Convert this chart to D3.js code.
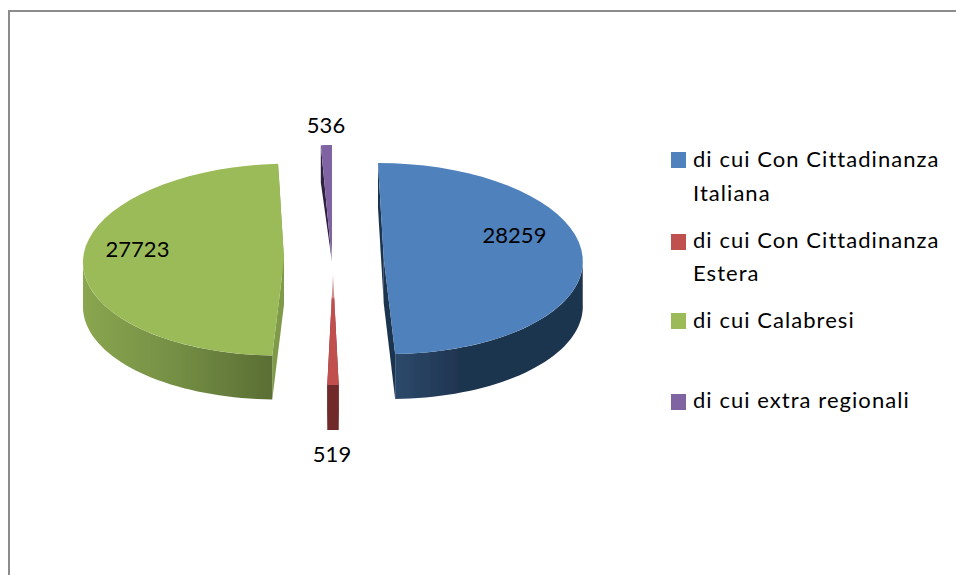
<!DOCTYPE html>
<html><head><meta charset="utf-8">
<script src="https://cdn.jsdelivr.net/npm/d3@7"></script>
<style>html,body{margin:0;padding:0;background:#fff;overflow:hidden}text{font-family:Lato,"Open Sans",sans-serif;fill:#000}</style>
</head><body><svg id="c" width="956" height="575"></svg>
<script>
const categories = ["di cui Con Cittadinanza Italiana","di cui Con Cittadinanza Estera","di cui Calabresi","di cui extra regionali"];
const legendLines = [["di cui Con Cittadinanza","Italiana"],["di cui Con Cittadinanza","Estera"],["di cui Calabresi"],["di cui extra regionali"]];
const values = [28259,519,27723,536];
const colors = ["#4f81bd","#c0504d","#9bbb59","#8064a2"];
const wallStops = [["#2c4a6b","#1f3450","#1f3450"],["#6f2a2a","#6f2a2a","#6f2a2a"],["#8aa64f","#748e44","#5a6e34"],["#2e2340","#2e2340","#2e2340"]];
const wallOffsets = [[0,.35,1],[0,.5,1],[0,.5,1],[0,.5,1]];
const cutWall = ["#1f3450","#6f2a2a","#7f9a48","#2e2340"];
// projected geometry of each exploded slice
const ax = [383.75,333,284,332], ay = [258.5,275,259.5,262];
const rx = [199,200,201,190], ry = [95.5,110,96,117];
const skew = [5.75,0,-6,0], depth = [45,45,44,37], apexDepth = [45,0,45,0];
const labelPos = [[514.5,243],[332,462],[137.5,257],[326,133]];
const legendTop = [152,234,313,394], legendBase = [[167,200.5],[248,281],[328],[408]];

const svg = d3.select("#c");
const defs = svg.append("defs");
defs.append("filter").attr("id","soft").attr("x","-5%").attr("y","-5%").attr("width","110%").attr("height","110%")
  .append("feGaussianBlur").attr("stdDeviation",0.5);
wallStops.forEach((st,i)=>{
  const g = defs.append("linearGradient").attr("id","w"+i);
  g.selectAll("stop").data(st).join("stop").attr("offset",(d,k)=>wallOffsets[i][k]).attr("stop-color",d=>d);
});
const fade = defs.append("linearGradient").attr("id","fadeRed").attr("x1",0).attr("x2",0).attr("y1",0).attr("y2",1);
[[0,.2],[.2,.5],[.22,1],[1,1]].forEach(s=>fade.append("stop").attr("offset",s[0]).attr("stop-color",colors[1]).attr("stop-opacity",s[1]));
const fadeP = defs.append("linearGradient").attr("id","fadeP").attr("x1",0).attr("x2",0).attr("y1",0).attr("y2",1);
[[0,1],[.85,1],[1,.1]].forEach(s=>fadeP.append("stop").attr("offset",s[0]).attr("stop-color",colors[3]).attr("stop-opacity",s[1]));

// frame
svg.append("path").attr("d","M9,575V11H956").attr("fill","none").attr("stroke","#8c8c8c").attr("stroke-width",2);

const arcs = d3.pie().sort(null).value(d=>d)(values);
const rim = (i,a,dz=0)=>[ax[i]+rx[i]*Math.sin(a)-skew[i]*Math.cos(a), ay[i]-ry[i]*Math.cos(a)+dz];
const line = d3.line();
const range = (a,b)=>d3.range(0,41).map(k=>a+(b-a)*k/40);
const pies = svg.append("g").attr("filter","url(#soft)");
arcs.forEach((d,i)=>{
  const a0=d.startAngle,a1=d.endAngle;
  const g = pies.append("g");
  const apex=[ax[i],ay[i]], apexD=[ax[i],ay[i]+apexDepth[i]];
  [a0,a1].forEach(a=>{
    g.append("path").attr("fill",cutWall[i])
     .attr("d",line([apex,rim(i,a),rim(i,a,depth[i]),apexD])+"Z");
  });
  const lo=Math.max(a0,Math.PI/2), hi=Math.min(a1,Math.PI*1.5);
  if(hi>lo){
    const top=range(lo,hi).map(a=>rim(i,a)), bot=range(hi,lo).map(a=>rim(i,a,depth[i]));
    g.append("path").attr("fill",`url(#w${i})`).attr("d",line(top.concat(bot))+"Z");
  }
  const fill = i===1?"url(#fadeRed)":i===3?"url(#fadeP)":colors[i];
  g.append("path").attr("fill",fill).attr("d",line([apex].concat(range(a0,a1).map(a=>rim(i,a))))+"Z");
});
svg.selectAll(".lab").data(values).join("text").attr("class","lab")
  .attr("x",(d,i)=>labelPos[i][0]).attr("y",(d,i)=>labelPos[i][1])
  .attr("text-anchor","middle").attr("font-size",22).text(d=>d);
const lg = svg.selectAll(".lg").data(categories).join("g").attr("class","lg");
lg.append("rect").attr("x",671).attr("y",(d,i)=>legendTop[i]).attr("width",15).attr("height",16).attr("fill",(d,i)=>colors[i]);
lg.each(function(d,i){
  d3.select(this).selectAll("text").data(legendLines[i]).join("text")
    .attr("x",693).attr("y",(t,k)=>legendBase[i][k]).attr("font-size",22).attr("letter-spacing",1.05).text(t=>t);
});
</script></body></html>
